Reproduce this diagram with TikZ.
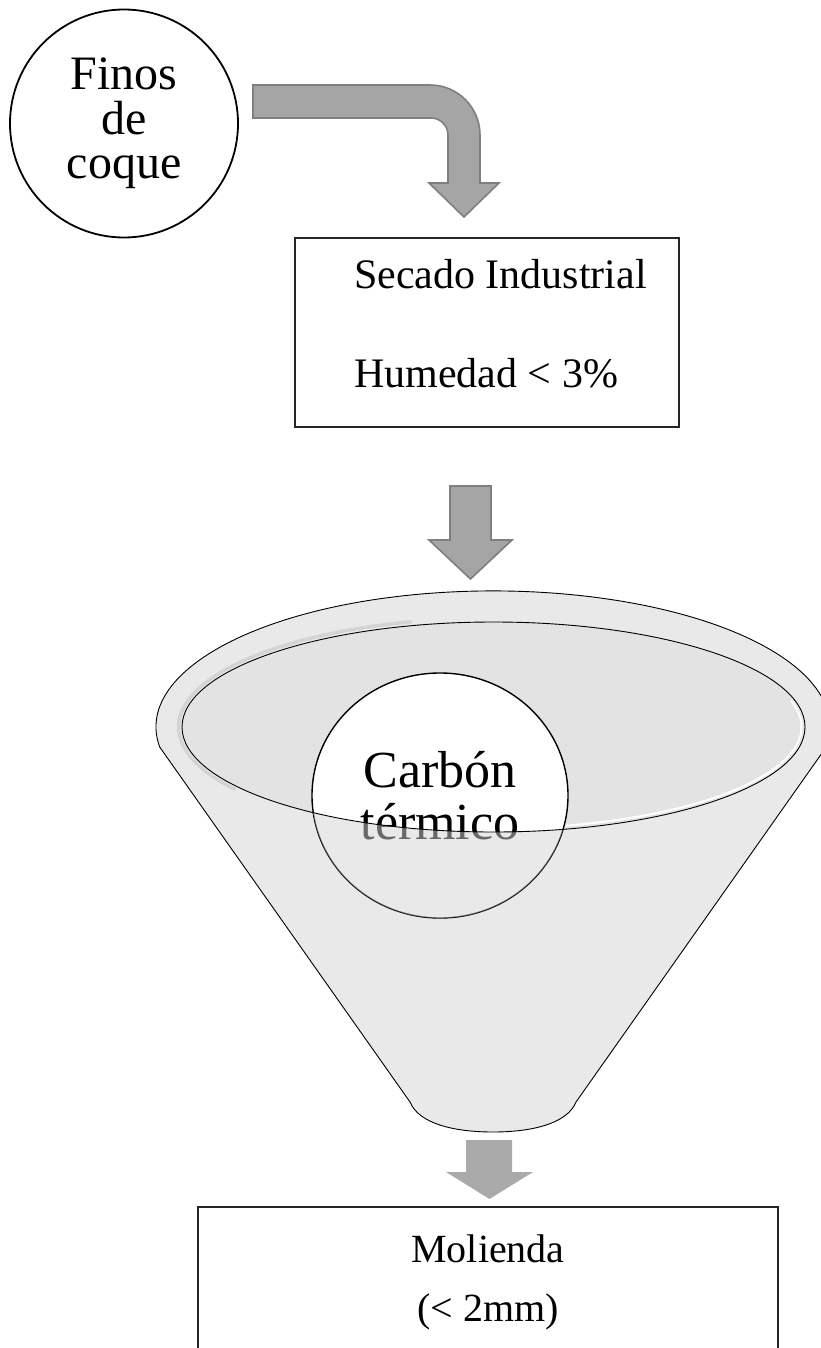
\documentclass[tikz,border=0pt]{standalone}
\usepackage{fontspec}
\setmainfont{Liberation Serif}
\usetikzlibrary{shapes.geometric}

\definecolor{arrowfill}{HTML}{A5A5A5}
\definecolor{arrowline}{HTML}{7F7F7F}
\definecolor{funnelgray}{HTML}{E9E9E9}
\definecolor{mouthgray}{HTML}{E3E3E3}
\definecolor{rimshade}{HTML}{D4D4D4}

\begin{document}
\begin{tikzpicture}[x=1pt,y=-1pt,
  blockarrow/.style={fill=arrowfill, draw=arrowline, line width=1.6pt, line join=miter},
  plainarrow/.style={fill=arrowfill!95!white},
  procbox/.style={rectangle, draw=black!85, line width=1.4pt, inner sep=0pt},
  feedcircle/.style={circle, draw=black, line width=1.8pt, inner sep=0pt,
    minimum size=228pt, align=center, font=\fontsize{48}{44.5}\selectfont},
  productcircle/.style={ellipse, draw=black, line width=1.4pt, inner sep=0pt,
    minimum width=256pt, minimum height=245pt, align=center,
    font=\fontsize{52}{52}\selectfont},
  funnelbody/.style={insert path={(410,1102) -- (159.7,747)
      arc[start angle=188.5, end angle=-8.5, x radius=337pt, y radius=136pt]
      -- (576,1102) .. controls (567,1124) and (531,1132) .. (493,1132)
      .. controls (455,1132) and (419,1124) .. (410,1102) -- cycle}},
  mouth/.style={insert path={(493.5,727) ellipse [x radius=311.5pt, y radius=105pt]}},
]
\useasboundingbox (0,0) rectangle (821,1348);
\fill[white] (0,0) rectangle (821,1348);
\clip (0,0) rectangle (821,1348);

% feed material
\node[feedcircle] (finos) at (124,123.5) {Finos\\de\\coque};

% bent block arrow into the dryer
\path[blockarrow] (253,85) -- (430,85) arc[start angle=90, end angle=0, radius=50pt]
  -- (480,183) -- (499,183) -- (464,217) -- (429,183) -- (448,183) -- (448,135)
  arc[start angle=0, end angle=90, radius=17pt] -- (253,118) -- cycle;

% drying step
\node[procbox, minimum width=384pt, minimum height=189pt,
  align=left, font=\fontsize{42}{99}\selectfont] (secado) at (487,332.5)
  {\rule{27pt}{0pt}Secado Industrial\\
   \rule{27pt}{0pt}Humedad < 3\%\rule[-18pt]{0pt}{18pt}};

% arrow into the funnel
\path[blockarrow] (450,486) -- (491,486) -- (491,540) -- (512,540) -- (470.5,579)
  -- (429,540) -- (450,540) -- cycle;

% funnel
\fill[funnelgray, draw=black, line width=0.9pt, funnelbody];
\fill[mouthgray, mouth];
\draw[rimshade, line width=3.5pt] (493.5,727) ++(105:315pt and 109pt)
  arc[start angle=105, end angle=215, x radius=315pt, y radius=109pt];
\draw[white, line width=2pt] (493.5,727) ++(-80:308pt and 101.5pt)
  arc[start angle=-80, end angle=15, x radius=308pt, y radius=101.5pt];

% product inside the funnel
\begin{scope}
  \clip[mouth];
  \fill[white] (440,795.5) ellipse [x radius=128pt, y radius=122.5pt];
\end{scope}
\node[productcircle] (carbon) at (440,795.5) {Carbón\\térmico};
\begin{scope}
  \clip (440,795.5) ellipse [x radius=128pt, y radius=122.5pt];
  \fill[funnelgray, opacity=0.45, even odd rule, funnelbody, mouth];
\end{scope}
\draw[black, line width=0.9pt, mouth];

% arrow out of the funnel
\path[plainarrow] (466,1140) -- (512,1140) -- (512,1172) -- (533,1172) -- (489.5,1199)
  -- (446,1172) -- (466,1172) -- cycle;

% grinding step
\node[procbox, minimum width=580pt, minimum height=150.8pt,
  align=center, font=\fontsize{40}{59}\selectfont] (molienda) at (488,1282.4)
  {Molienda\\(< 2mm)};
\end{tikzpicture}
\end{document}
